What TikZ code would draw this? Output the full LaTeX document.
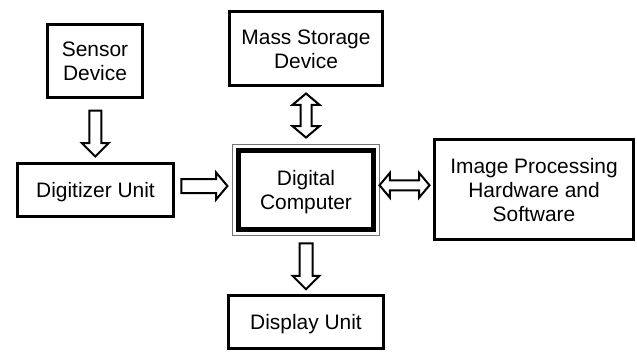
\documentclass[tikz,border=0pt]{standalone}
\usepackage{fontspec}
\setmainfont{Liberation Sans}
\usetikzlibrary{shapes.arrows,calc}
\begin{document}
\begin{tikzpicture}[x=1bp,y=-1bp,
  box/.style={draw, line width=3bp, inner sep=0pt, align=center,
    font=\fontsize{21}{24}\selectfont, text height=15bp, text depth=0pt},
  twoline/.style={text height=39bp},
  threeline/.style={text height=63bp},
  sarrow/.style={single arrow, draw, line width=2bp, inner xsep=0pt, inner ysep=5bp,
    single arrow head extend=7.5bp, single arrow tip angle=90, minimum height=46bp},
  darrow/.style={double arrow, draw, line width=2bp, inner xsep=0pt, inner ysep=4.5bp,
    double arrow head extend=8bp, double arrow tip angle=100, minimum height=46bp},
  frame/.style={line width=1bp, black!55}]
\useasboundingbox (0,0) rectangle (637,351);
\node[box, twoline, minimum width=95bp, minimum height=73bp] (sensor) at (95,61) {Sensor\\Device};
\node[box, twoline, minimum width=153bp, minimum height=74bp] (mass) at (306,48.5) {Mass Storage\\Device};
\node[box, minimum width=156bp, minimum height=53bp] (digit) at (95.5,190) {Digitizer Unit};
\node[box, twoline, line width=5bp, minimum width=135bp, minimum height=79bp] (comp) at (306,190) {Digital\\Computer};
\draw[frame] ([shift={(-3.5bp,3.5bp)}]comp.north west) rectangle ([shift={(3.5bp,-3.5bp)}]comp.south east);
\node[box, threeline, minimum width=199bp, minimum height=100bp] (img) at (534,189.5) {Image Processing\\Hardware and\\Software};
\node[box, minimum width=155bp, minimum height=53bp] (disp) at (306,322) {Display Unit};
% connectors
\node[sarrow, rotate=-90] (a1) at ($(sensor.south)!0.5!(digit.north)$) {};
\node[darrow, rotate=90, minimum height=44bp] (a2) at ($(mass.south)!0.5!(comp.north)+(0,-2)$) {};
\node[sarrow, single arrow tip angle=100, inner ysep=6bp, single arrow head extend=6.5bp] (a3) at ($(digit.east)!0.5!(comp.west)+(-4,-4)$) {};
\node[darrow, minimum height=50bp, inner ysep=4bp, double arrow head extend=7.5bp] (a4) at ($(comp.east)!0.5!(img.west)+(0,-4.5)$) {};
\node[sarrow, rotate=-90, inner ysep=5.5bp, single arrow head extend=7bp] (a5) at ($(comp.south)!0.5!(disp.north)$) {};
\end{tikzpicture}
\end{document}
